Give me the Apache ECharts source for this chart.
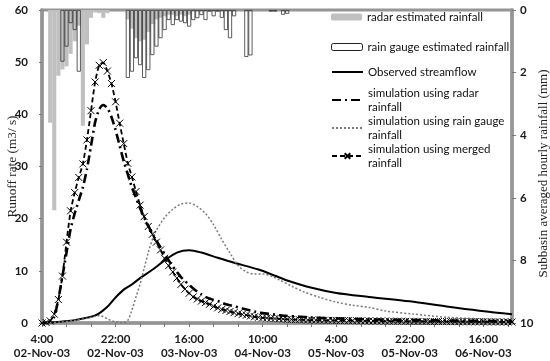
<!DOCTYPE html>
<html><head><meta charset="utf-8">
<script src="https://cdn.jsdelivr.net/npm/echarts@6/dist/echarts.min.js"></script>
<style>html,body{margin:0;padding:0;background:#fff}#c{width:550px;height:361px}</style>
</head><body><div id="c"></div>
<script>
// x axis: hours since 4:00 02-Nov-03
const tickLabels = ["4:00\n02-Nov-03","22:00\n02-Nov-03","16:00\n03-Nov-03","10:00\n04-Nov-03","4:00\n05-Nov-03","22:00\n05-Nov-03","16:00\n06-Nov-03"];

// rainfall bars (mm), [hour, value]
const radarRainHours = [2,3,4,5,6,7,8,9,10,11,12,13,14,15,16,21,22,23,24,25,26,27,28,29,30,31,32,33,34,35,36];
const radarRain      = [3.6,6.4,2.1,1.9,1.8,1.4,1.0,0.5,3.7,1.1,0.25,0.08,0.1,0.25,0.1,0.3,0.6,0.9,1.0,0.95,0.7,0.45,0.3,0.25,0.2,0.15,0.15,0.2,0.15,0.2,0.15];
const gaugeRainHours = [5,6,7,8,9,21,22,23,24,25,26,27,28,29,30,31,32,33,34,35,36,37,38,39,40,41,42,43,44,45,46,47,50,51,56,57,59,60];
const gaugeRain      = [1.65,1.17,0.42,0.64,1.97,2.17,1.97,1.54,1.76,2.17,1.92,1.44,1.17,0.9,0.64,0.32,0.48,0.32,0.37,0.42,0.53,0.32,0.26,0.16,0.32,0.05,0.2,0.05,0.25,0.64,0.9,0.2,1.5,1.45,0.05,0.05,0.15,0.12];

// observed streamflow (m3/s)
const obsHours = [2,5,8,11,13,14,16,18,20,22,24,27,30,33,36,39,43,47,53,57,60,66,72,80,90,99,107,115];
const obsFlow  = [0.1,0.3,0.55,1.0,1.45,1.85,3.1,4.9,6.4,7.4,8.6,10.2,12.0,13.5,13.95,13.5,12.5,11.55,10.25,9.05,8.15,6.75,5.75,5.0,4.15,3.15,2.35,1.7];

// simulation using rain gauge rainfall
const simGaugeHours = [0,4,8,11,13,14,15,16,17,18,19,20,21,22,23,24,25,26,27,28,30,32,34,36,38,40,42,44,46,48,50,52,54,56,58,61,64,68,72,76,80,84,91,99,107,115];
const simGauge      = [0,0.15,0.5,0.9,1.3,1.4,1.2,0.8,0.45,0.2,0.08,0.05,0.5,2.5,5,7.5,10.5,13.5,16,17.8,20.2,21.8,22.8,23,22.3,21,18.8,16,13.4,11,9.8,9.4,9.4,9.0,8.3,7.1,6.0,4.9,4.0,3.4,3.0,2.3,1.7,1.1,0.8,0.6];

// simulation using radar rainfall (hourly from hour 0)
const simRadar = [0,0,0.3,1.2,4.5,9,13.5,18,21,23.5,
  26,29.5,34,38.5,41,41.8,41.2,39.5,37,34,
  31,28.5,26,24,22,20.2,18.6,17.2,15.8,14.5,
  13.2,12,10.8,9.8,8.8,8,7.3,6.6,6.0,5.5,
  5.0,4.7,4.4,4.2,3.9,3.6,3.4,3.2,3.0,2.8,
  2.6,2.4,2.2,2.0,1.9,1.8,1.7,1.6,1.5,1.4,
  1.35,1.3,1.25,1.2,1.15,1.1,1.05,1.0,0.98,0.95,
  0.92,0.9,0.88,0.85,0.83,0.8,0.78,0.76,0.74,0.72,
  0.7,0.68,0.67,0.65,0.64,0.62,0.61,0.6,0.58,0.57,
  0.56,0.55,0.54,0.53,0.52,0.51,0.5,0.49,0.48,0.47,
  0.46,0.45,0.44,0.44,0.43,0.42,0.41,0.41,0.4,0.39,
  0.39,0.38,0.37,0.37,0.36,0.36];

// simulation using merged rainfall (hourly from hour 0)
const simMerged = [0,0.1,0.4,1.7,4.5,9,15.5,21.5,25,27.9,
  30.5,35.1,40.7,46.2,49.4,49.9,48.3,45.9,42.4,38.3,
  34.4,30.6,28,25.2,22.6,20.4,18.5,17,15.5,14,
  12.4,11,9.8,8.6,7.4,6.5,5.7,5.0,4.6,4.2,
  3.9,3.6,3.2,2.9,2.6,2.4,2.2,2.0,1.8,1.65,
  1.5,1.35,1.2,1.1,1.0,0.95,0.9,0.85,0.8,0.75,
  0.7,0.68,0.65,0.62,0.6,0.58,0.56,0.55,0.53,0.52,
  0.5,0.49,0.48,0.47,0.46,0.45,0.44,0.43,0.42,0.41,
  0.4,0.39,0.38,0.37,0.36,0.35,0.34,0.34,0.33,0.32,
  0.31,0.31,0.3,0.3,0.29,0.29,0.28,0.28,0.27,0.27,
  0.26,0.26,0.25,0.25,0.24,0.24,0.23,0.23,0.22,0.22,
  0.21,0.21,0.2,0.2,0.2,0.19];

const names = ['radar estimated rainfall','rain gauge estimated rainfall','Observed streamflow',
  'simulation using radar rainfall','simulation using rain gauge rainfall','simulation using merged rainfall'];

const pairs = (xs, ys) => xs.map((x, i) => [x, ys[i]]);
const indexed = ys => ys.map((y, i) => [i, y]);

const AX = '#959595';
const labelFont = {fontFamily: 'Lato', fontWeight: 'bold', fontSize: 11.5, color: '#1a1a1a'};
const legText = {fontFamily: 'Lato', fontSize: 11.5, color: '#111', lineHeight: 14};

function leg(name, cy, twoLine, itemStyle) {
  const o = {
    data: [name], left: 331, top: twoLine ? cy - 21 : cy - 7, padding: 0,
    itemWidth: 31, itemHeight: 7, itemGap: 0, selectedMode: false,
    formatter: n => twoLine ? n.replace(/ rainfall$/, '\nrainfall') : n,
    textStyle: Object.assign({}, legText, twoLine ? {padding: [14, 0, 0, 0]} : {})
  };
  if (itemStyle) o.itemStyle = itemStyle;
  return o;
}

const chart = echarts.init(document.getElementById('c'), null, {renderer: 'canvas'});
chart.setOption({
  animation: false,
  backgroundColor: '#fff',
  grid: {left: 42, right: 38, top: 10, bottom: 38, show: true, borderColor: AX, borderWidth: 3,
         backgroundColor: 'transparent', containLabel: false, outerBoundsMode: 'none'},
  legend: [
    leg(names[0], 17, false),
    leg(names[1], 47, false, {borderWidth: 1, borderColor: '#222'}),
    leg(names[2], 72, false, {opacity: 0}),
    leg(names[3], 100, true, {opacity: 0}),
    leg(names[4], 128, true, {opacity: 0}),
    leg(names[5], 156, true)
  ],
  xAxis: {
    type: 'value', min: 0, max: 115, interval: 6,
    axisLine: {lineStyle: {color: AX, width: 3.5}},
    axisTick: {show: true, length: 4, lineStyle: {color: '#7a7a7a', width: 1}},
    splitLine: {show: false},
    axisLabel: Object.assign({}, labelFont, {
      margin: 9, lineHeight: 14, showMaxLabel: false, hideOverlap: false,
      formatter: v => (v % 18 === 0 && tickLabels[v / 18] !== undefined) ? tickLabels[v / 18] : ''
    })
  },
  yAxis: [
    {
      type: 'value', min: 0, max: 60, interval: 10,
      name: 'Runoff rate (m3/ s)', nameLocation: 'middle', nameGap: 23, nameRotate: 90, nameMoveOverlap: false,
      nameTextStyle: {fontFamily: 'Liberation Serif', fontSize: 13.3, color: '#222'},
      axisLine: {show: true, lineStyle: {color: AX, width: 3.5}},
      axisTick: {show: true, length: 3, lineStyle: {color: '#7a7a7a'}},
      splitLine: {show: false},
      axisLabel: Object.assign({}, labelFont, {margin: 14})
    },
    {
      type: 'value', min: 0, max: 10, interval: 2, inverse: true, position: 'right',
      name: 'Subbasin averaged hourly rainfall (mm)', nameLocation: 'middle', nameGap: 25, nameRotate: 90, nameMoveOverlap: false,
      nameTextStyle: {fontFamily: 'Liberation Serif', fontSize: 13, color: '#222', padding: [0, 14, 0, 0]},
      axisLine: {show: true, lineStyle: {color: AX, width: 3.5}},
      axisTick: {show: true, length: 4, lineStyle: {color: '#7a7a7a'}},
      splitLine: {show: false},
      axisLabel: Object.assign({}, labelFont, {margin: 8})
    }
  ],
  series: [
    {
      name: names[0], type: 'bar', yAxisIndex: 1, barWidth: 4.1, barGap: '-100%',
      itemStyle: {color: '#c0c0c0'},
      data: pairs(radarRainHours, radarRain)
    },
    {
      name: names[1], type: 'bar', yAxisIndex: 1, barWidth: 4.1, barGap: '-100%',
      itemStyle: {color: 'rgba(255,255,255,0)', borderColor: '#333', borderWidth: 0.8},
      data: pairs(gaugeRainHours, gaugeRain)
    },
    {
      name: names[2], type: 'line', symbol: 'none', smooth: 0.3,
      lineStyle: {color: '#000', width: 2},
      itemStyle: {color: '#000'},
      data: pairs(obsHours, obsFlow)
    },
    {
      name: names[3], type: 'line', symbol: 'none', smooth: 0.2,
      lineStyle: {color: '#000', width: 2.6, type: [9, 4, 2, 4]},
      itemStyle: {color: '#000'},
      data: indexed(simRadar)
    },
    {
      name: names[4], type: 'line', symbol: 'none', smooth: 0.3,
      lineStyle: {color: '#7a7a7a', width: 1.5, type: [2, 2]},
      itemStyle: {color: '#7a7a7a'},
      data: pairs(simGaugeHours, simGauge)
    },
    {
      name: names[5], type: 'line', smooth: 0.2,
      symbol: 'path://M0,0L10,10M10,0L0,10', symbolSize: 7, showSymbol: true,
      lineStyle: {color: '#000', width: 1.8, type: [5, 3]},
      itemStyle: {color: 'none', borderColor: '#000', borderWidth: 1},
      data: indexed(simMerged)
    }
  ]
});
</script>
</body></html>
